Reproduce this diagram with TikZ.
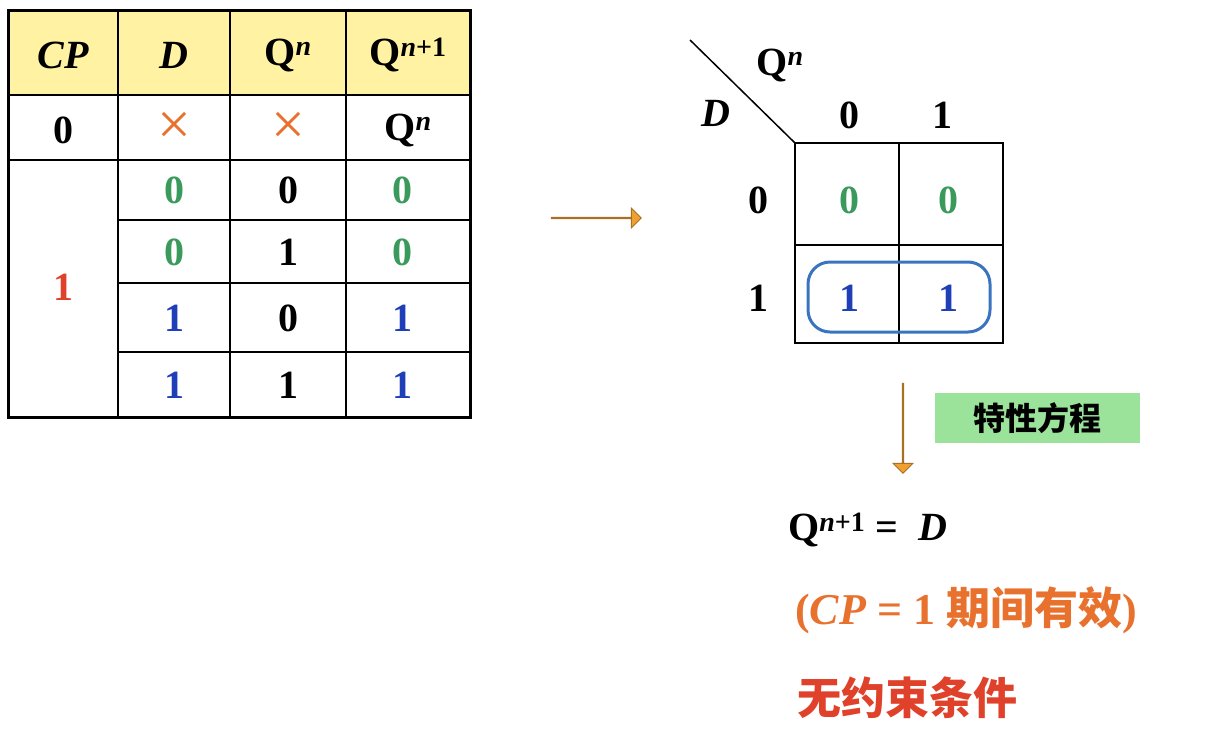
\documentclass[tikz,border=0pt]{standalone}
\usepackage{fontspec}
\setmainfont{Liberation Serif}
\newfontfamily\cjk{Noto Sans CJK SC}
\usetikzlibrary{shapes.arrows}
\definecolor{hy}{HTML}{FFF3A3}
\definecolor{gr}{HTML}{3A9A5B}
\definecolor{bl}{HTML}{1E3FB8}
\definecolor{rd}{HTML}{E0412A}
\definecolor{og}{HTML}{F0A030}
\definecolor{ot}{HTML}{E8712E}
\definecolor{kb}{HTML}{3A73C0}
\definecolor{lg}{HTML}{9BE39B}
\newcommand{\Qn}{Q\textsuperscript{\textit{n}}}
\newcommand{\Qnn}{Q\textsuperscript{\textit{n}+1}}
\begin{document}
\begin{tikzpicture}[x=1pt,y=-1pt,
  t/.style={font=\fontsize{40}{42}\selectfont\bfseries,inner sep=0},
  g/.style={t,text=gr}, b/.style={t,text=bl}, arr/.style={single arrow,draw=og!70!black,fill=og,inner sep=0,line width=1pt}]
\useasboundingbox (0,0) rectangle (1206,736);
\fill[hy] (8,10) rectangle (470,95);
\draw[line width=3pt] (8,10) rectangle (470,417);
\foreach \x in {118,230,346} \draw[line width=1.5pt] (\x,10)--(\x,417);
\foreach \y in {95,160} \draw[line width=1.5pt] (8,\y)--(470,\y);
\foreach \y in {220,283,352} \draw[line width=1.5pt] (118,\y)--(470,\y);
\node[t] (h1) at (63,55) {\itshape CP};
\node[t] (h2) at (174,55) {\itshape D};
\node[t] (h3) at (288,55) {\Qn};
\node[t] (h4) at (408,55) {\Qnn};
\node[t] at (63,130) {0};
\node[t,text=ot] at (174,128) {\fontsize{60}{60}\selectfont\normalfont ×};
\node[t,text=ot] at (288,128) {\fontsize{60}{60}\selectfont\normalfont ×};
\node[t] at (408,130) {\Qn};
\node[t,text=rd] at (63,287) {1};
\node[g] at (174,190){0}; \node[t] at (288,190){0}; \node[g] at (402,190){0};
\node[g] at (174,252){0}; \node[t] at (288,252){1}; \node[g] at (402,252){0};
\node[b] at (174,318){1}; \node[t] at (288,318){0}; \node[b] at (402,318){1};
\node[b] at (174,385){1}; \node[t] at (288,385){1}; \node[b] at (402,385){1};
\node[arr,minimum width=20,single arrow head extend=9,single arrow head indent=0,minimum height=90] (ar) at (596,218) {};
% K-map
\draw[line width=2.5pt] (795,143) rectangle (1003,343);
\draw[line width=1.5pt] (899,143)--(899,343) (795,245)--(1003,245);
\coordinate (dg) at (690,40); \coordinate (kc) at (795,143);
\draw[line width=1.5pt] (dg)--(kc);
\node[t] at (780,65) {\Qn};
\node[t] at (716,113) {\itshape D};
\node[t] at (849,115){0}; \node[t] at (942,115){1};
\node[t] at (758,200){0}; \node[t] at (758,298){1};
\node[g] at (849,200){0}; \node[g] at (948,200){0};
\node[b] at (849,298){1}; \node[b] at (948,298){1};
\draw[kb,line width=3pt,rounded corners=22] (808,262) rectangle (990,332);
\node[arr,shape border rotate=270,minimum width=20,single arrow head extend=9,minimum height=90] (da) at (903,428) {};
\node[fill=lg,minimum width=205,minimum height=50,inner sep=0,font=\cjk\fontsize{32}{32}\selectfont\bfseries] (lab) at (1037,418) {特性方程};
\node[t,anchor=west] (eq) at (788,530) {\Qnn{} = \ \textit{D}};
\node[t,text=ot,anchor=west,font=\fontsize{44}{46}\selectfont\bfseries] (cp) at (795,610) {(\textit{CP} = 1 {\cjk 期间有效})};
\node[t,text=rd,anchor=west,font=\cjk\fontsize{44}{44}\selectfont\bfseries] (nc) at (797,698) {无约束条件};
\end{tikzpicture}
\end{document}
